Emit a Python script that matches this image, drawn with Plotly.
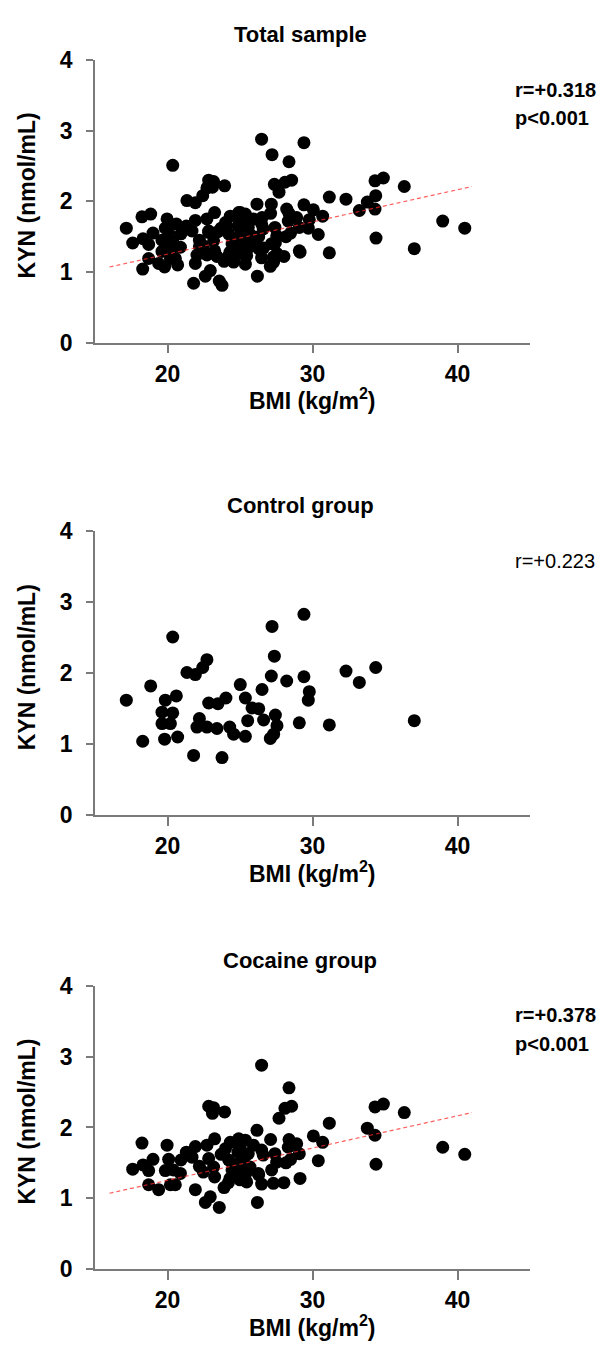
import plotly.graph_objects as go

# ---------------- data ----------------
control_bmi = [17.16, 18.29, 18.84, 20.36, 19.85, 20.61, 19.62, 20.36, 19.62, 20.20, 19.80, 20.70,
               21.34, 21.92, 22.43, 22.72, 21.80, 23.76, 22.20, 22.03, 22.72, 23.41, 22.84, 23.48,
               24.03, 24.29, 24.56, 25.02, 25.37, 25.53, 25.37, 25.83, 26.29, 26.52, 26.63, 27.16,
               27.37, 27.21, 27.44, 27.55, 27.32, 27.09, 28.22, 29.41, 29.41, 29.78, 29.71, 32.31,
               34.36, 33.23, 37.02, 31.16, 29.09]
control_kyn = [1.62, 1.04, 1.82, 2.51, 1.62, 1.68, 1.45, 1.44, 1.29, 1.29, 1.07, 1.10,
               2.01, 1.98, 2.08, 2.19, 0.84, 0.81, 1.36, 1.24, 1.24, 1.22, 1.58, 1.57,
               1.65, 1.24, 1.14, 1.84, 1.65, 1.33, 1.11, 1.51, 1.50, 1.77, 1.34, 1.96,
               2.24, 2.66, 1.41, 1.26, 1.14, 1.08, 1.89, 2.83, 1.95, 1.74, 1.62, 2.03,
               2.08, 1.87, 1.33, 1.27, 1.30]

cocaine_bmi = [17.60, 18.24, 18.31, 18.70, 19.00, 19.97, 20.08, 19.85, 18.70, 19.39, 20.20, 20.54,
               20.93, 20.89, 21.92, 21.69, 21.92, 22.72, 23.25, 22.84, 23.18, 23.25, 22.84, 23.18,
               23.94, 23.10, 22.61, 22.95, 23.57, 24.33, 24.91, 25.37, 24.86, 26.17, 24.22, 24.91,
               24.45, 25.14, 26.20, 26.29,
               26.49, 28.38, 28.10, 28.56, 27.69, 31.16, 27.11, 28.38, 28.91, 30.06, 30.70, 30.40,
               25.00, 25.57, 25.92, 26.49, 27.41, 27.53, 28.17, 28.49, 29.09, 25.00, 24.66, 25.46,
               22.47, 26.26, 27.18, 29.14, 28.03, 27.30, 24.31, 25.00, 25.46, 26.49, 25.69, 26.60,
               28.33,
               34.31, 34.89, 36.33, 33.78, 34.31, 38.98, 34.38, 40.50,
               23.70, 24.00, 25.30, 24.20, 23.90, 22.20, 21.30, 20.40]
cocaine_kyn = [1.41, 1.78, 1.47, 1.39, 1.55, 1.75, 1.55, 1.39, 1.19, 1.12, 1.19, 1.19,
               1.54, 1.35, 1.12, 1.58, 1.73, 1.75, 1.84, 1.56, 1.44, 1.30, 2.30, 2.28,
               2.22, 2.20, 0.94, 1.02, 0.87, 1.79, 1.84, 1.82, 1.65, 1.96, 1.54, 1.49,
               1.40, 1.30, 0.94, 1.33,
               2.88, 2.56, 2.27, 2.30, 2.13, 2.06, 1.83, 1.83, 1.77, 1.88, 1.79, 1.53,
               1.72, 1.63, 1.75, 1.68, 1.63, 1.51, 1.50, 1.55, 1.63, 1.47, 1.37, 1.37,
               1.37, 1.35, 1.40, 1.28, 1.22, 1.21, 1.28, 1.26, 1.23, 1.20, 1.44, 1.61,
               1.72,
               2.29, 2.33, 2.21, 1.99, 1.89, 1.72, 1.48, 1.62,
               1.62, 1.70, 1.58, 1.22, 1.15, 1.45, 1.65, 1.40]

total_bmi = control_bmi + cocaine_bmi
total_kyn = control_kyn + cocaine_kyn

# regression lines (endpoints)
total_fit_bmi = [16.0, 41.0]
total_fit_kyn = [1.07, 2.21]
cocaine_fit_bmi = [16.0, 41.0]
cocaine_fit_kyn = [1.07, 2.21]

panel_titles = ["Total sample", "Control group", "Cocaine group"]
panel_stats = [["r=+0.318", "p<0.001"], ["r=+0.223"], ["r=+0.378", "p<0.001"]]
stats_bold = [True, False, True]

x_ticks = [20, 30, 40]
y_ticks = [0, 1, 2, 3, 4]
x_range = [15, 45]
y_range = [0, 4]
x_title = "BMI (kg/m<sup>2</sup>)"
y_title = "KYN (nmol/mL)"

# ---------------- layout geometry ----------------
W, H = 605, 1356
ax_left, ax_right = 95, 530
panel_px = [(48, 336), (528.5, 817.7), (992, 1280.5)]  # (top, bottom) pixel of y axis

FONT = "Liberation Sans, Arial, sans-serif"
AXCOL = "#7a7a7a"


def px_x(p):
    return p / W


def px_y(p):
    return 1 - p / H


fig = go.Figure()

panels = [
    (total_bmi, total_kyn, total_fit_bmi, total_fit_kyn),
    (control_bmi, control_kyn, None, None),
    (cocaine_bmi, cocaine_kyn, cocaine_fit_bmi, cocaine_fit_kyn),
]

annotations = []
for i, (xs, ys, fx, fy) in enumerate(panels):
    n = "" if i == 0 else str(i + 1)
    xa, ya = "x" + n, "y" + n
    fig.add_trace(go.Scatter(x=xs, y=ys, mode="markers", xaxis=xa, yaxis=ya,
                             marker=dict(color="black", size=13, line=dict(width=0)),
                             showlegend=False, hoverinfo="x+y"))
    if fx is not None:
        fig.add_trace(go.Scatter(x=fx, y=fy, mode="lines", xaxis=xa, yaxis=ya,
                                 line=dict(color="rgba(255,40,40,0.75)", width=1.2, dash="4px,3px"),
                                 showlegend=False, hoverinfo="skip"))
    top, bot = panel_px[i]
    axis_common = dict(showline=True, linecolor=AXCOL, linewidth=1.5, ticks="outside",
                       tickcolor=AXCOL, tickwidth=1.5, showgrid=False, zeroline=False,
                       tickfont=dict(family=FONT, size=23, color="black", weight="bold"))
    fig.layout["xaxis" + n] = dict(
        axis_common, domain=[px_x(ax_left), px_x(ax_right)], range=x_range,
        tickmode="array", tickvals=x_ticks, ticklen=9, anchor=ya, ticklabelstandoff=1)
    fig.layout["yaxis" + n] = dict(
        axis_common, domain=[px_y(bot), px_y(top)], range=y_range,
        tickmode="array", tickvals=y_ticks, ticklen=7, anchor=xa, ticklabelstandoff=9)
    # axis titles
    annotations.append(dict(text=x_title, xref="paper", yref="paper",
                            x=px_x((ax_left + ax_right) / 2), y=px_y(bot + 58),
                            xanchor="center", yanchor="middle", showarrow=False,
                            font=dict(family=FONT, size=23, color="black", weight="bold")))
    annotations.append(dict(text=y_title, xref="paper", yref="paper", textangle=-90,
                            x=px_x(27), y=px_y((top + bot) / 2 - 6),
                            xanchor="center", yanchor="middle", showarrow=False,
                            font=dict(family=FONT, size=23, color="black", weight="bold")))
    # panel title
    annotations.append(dict(text=panel_titles[i], xref="paper", yref="paper",
                            x=px_x(300), y=px_y(top - 26), xanchor="center", yanchor="middle",
                            showarrow=False,
                            font=dict(family=FONT, size=22, color="black", weight="bold")))
    for j, s in enumerate(panel_stats[i]):
        annotations.append(dict(text=s, xref="paper", yref="paper",
                                x=px_x(513), y=px_y(top + 30 + 29 * j),
                                xanchor="left", yanchor="middle", showarrow=False,
                                font=dict(family=FONT, size=20, color="black",
                                          weight="bold" if stats_bold[i] else "normal")))

fig.update_layout(width=W, height=H, margin=dict(l=0, r=0, t=0, b=0),
                  plot_bgcolor="white", paper_bgcolor="white",
                  annotations=annotations, showlegend=False)

fig.write_html("out.html", config={"displayModeBar": False},
               post_script="document.body.style.margin='0px';")
